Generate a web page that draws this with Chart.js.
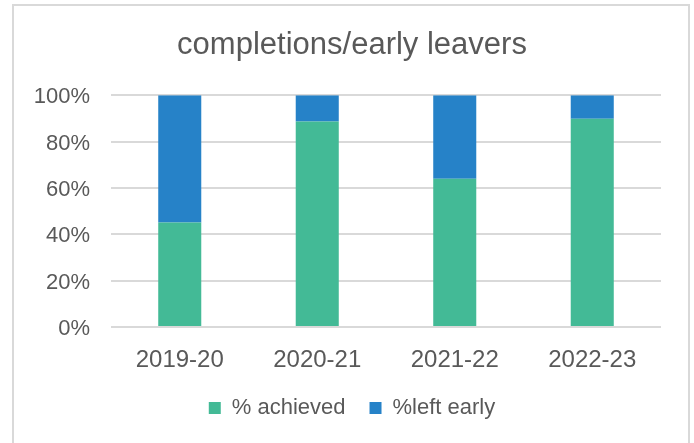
<!DOCTYPE html>
<html>
<head>
<meta charset="utf-8">
<script src="https://cdn.jsdelivr.net/npm/chart.js@4/dist/chart.umd.min.js"></script>
<style>
  html, body { margin: 0; padding: 0; background: #fff; overflow: hidden; }
  #wrap { position: relative; width: 694px; height: 443px; }
  #frame { position: absolute; left: 12px; top: 4px; width: 678px; height: 460px; border: 2px solid #d9d9d9; box-sizing: border-box; }
  canvas { position: absolute; left: 0; top: 0; }
</style>
</head>
<body>
<div id="wrap">
  <div id="frame"></div>
  <canvas id="chart" width="694" height="443"></canvas>
</div>
<script>
const years = ["2019-20", "2020-21", "2021-22", "2022-23"];
const achieved = [45.1, 88.7, 64.0, 89.8];
const leftEarly = [54.9, 11.3, 36.0, 10.2];

const textColor = "#595959";
const font = "'Liberation Sans', Arial, sans-serif";

const ctx = document.getElementById("chart").getContext("2d");
new Chart(ctx, {
  type: "bar",
  data: {
    labels: years,
    datasets: [
      { label: "% achieved", data: achieved, backgroundColor: "#43ba96" },
      { label: "%left early", data: leftEarly, backgroundColor: "#2682c8" }
    ]
  },
  options: {
    responsive: false,
    animation: false,
    layout: { padding: { left: 10, right: 0, top: 0, bottom: 14 } },
    datasets: { bar: { categoryPercentage: 1, barPercentage: 0.313 } },
    plugins: {
      title: {
        display: true,
        text: "completions/early leavers",
        color: textColor,
        font: { family: font, size: 31, weight: "normal" },
        padding: { top: 27, bottom: 31 }
      },
      legend: {
        position: "bottom",
        labels: {
          color: textColor,
          font: { family: font, size: 22 },
          boxWidth: 12,
          boxHeight: 12,
          padding: 24
        }
      },
      tooltip: { enabled: false }
    },
    scales: {
      x: {
        stacked: true,
        afterFit: s => { s.height = 46; },
        grid: { display: false, drawTicks: false },
        border: { display: false },
        ticks: { color: textColor, font: { family: font, size: 24 }, padding: 19 }
      },
      y: {
        stacked: true,
        min: 0,
        max: 100,
        afterFit: s => { s.width = 101; },
        grid: { color: "#d9d9d9", lineWidth: 2, drawTicks: false },
        border: { display: false },
        ticks: {
          stepSize: 20,
          color: textColor,
          font: { family: font, size: 22 },
          padding: 21,
          labelOffset: 2,
          callback: v => v + "%"
        }
      },
      yRight: {
        position: "right",
        afterFit: s => { s.width = 33; },
        grid: { display: false, drawTicks: false },
        border: { display: false },
        ticks: { display: false }
      }
    }
  }
});
</script>
</body>
</html>
